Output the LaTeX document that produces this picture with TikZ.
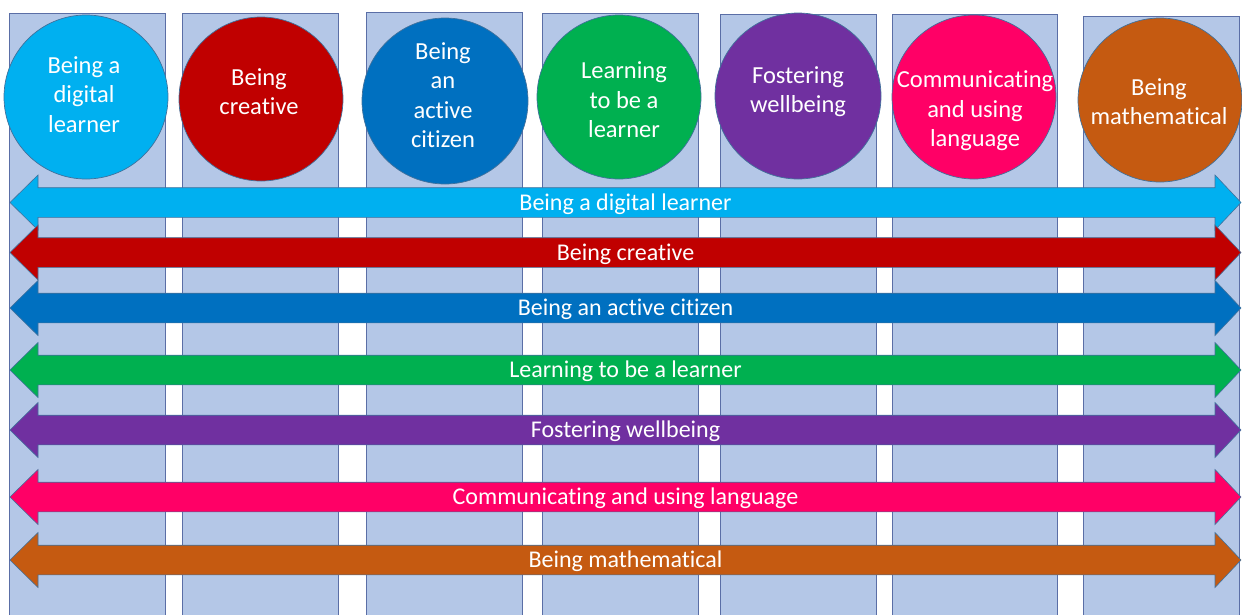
\documentclass[tikz,border=0pt]{standalone}
\usepackage{fontspec}
\setmainfont[Ligatures=NoCommon]{Carlito}
\begin{document}
\begin{tikzpicture}[x=1pt,y=-1pt,
  colbox/.style={fill=colfill,draw=colline,line width=0.8pt},
  disc/.style={circle,draw=outline,line width=0.7pt,minimum size=#1,inner sep=0pt},
  disctext/.style={text=white,align=center,inner sep=0pt,font=\fontsize{24.5}{29.5}\selectfont},
  bandtext/.style={text=white,inner sep=0pt,text height=15.5pt,text depth=0pt,font=\fontsize{24}{29}\selectfont},
  band/.style={draw=outline,line width=0.6pt}]
\definecolor{colfill}{HTML}{B4C7E7}
\definecolor{colline}{HTML}{5A6EA6}
\definecolor{outline}{HTML}{41719C}
\definecolor{cdigital}{HTML}{00B0F0}
\definecolor{ccreative}{HTML}{C00000}
\definecolor{ccitizen}{HTML}{0070C0}
\definecolor{clearner}{HTML}{00B050}
\definecolor{cwell}{HTML}{7030A0}
\definecolor{clang}{HTML}{FF0066}
\definecolor{cmaths}{HTML}{C55A11}
\useasboundingbox (0,0) rectangle (1242,614);
\clip (0,0) rectangle (1242,614);

% background columns
\draw[colbox] (9,13) rectangle (165,630);
\draw[colbox] (182,13) rectangle (338,630);
\draw[colbox] (366,12) rectangle (522,630);
\draw[colbox] (542,13) rectangle (698,630);
\draw[colbox] (720,14) rectangle (876,630);
\draw[colbox] (892,14) rectangle (1057,630);
\draw[colbox] (1083,16) rectangle (1239,630);

% the seven areas as circles
\node[disc=164pt,fill=cdigital]  (c1) at (86,97)   {};
\node[disc=164pt,fill=ccreative] (c2) at (261,99)  {};
\node[disc=166pt,fill=ccitizen]  (c3) at (445,101) {};
\node[disc=164pt,fill=clearner]  (c4) at (619,97)  {};
\node[disc=166pt,fill=cwell]     (c5) at (798,96)  {};
\node[disc=164pt,fill=clang]     (c6) at (974,97)  {};
\node[disc=164pt,fill=cmaths]    (c7) at (1160,100) {};

\node[disctext] (t1) at (84,94.5)  {Being a\\digital\\learner};
\node[disctext] (t2) at (259,91.5) {Being\\creative};
\node[disctext] (t3) at (443,95)   {Being\\an\\active\\citizen};
\node[disctext] (t4) at (624,100)  {Learning\\to be a\\learner};
\node[disctext] (t5) at (798,91.5) {Fostering\\wellbeing};
\node[disctext] (t6) at (975,111)  {Communicating\\and using\\language};
\node[disctext] (t7) at (1159,101.5) {Being\\mathematical};

% double-headed bands across all columns: #1 centre y, #2 colour, #3 name, #4 label
\newcommand\bandarrow[4]{%
  \filldraw[band,fill=#2] (10,#1) -- (38,#1-27.5) -- (38,#1-14.8) -- (1215,#1-14.8)
    -- (1215,#1-27.5) -- (1241,#1) -- (1215,#1+27.5) -- (1215,#1+14.8)
    -- (38,#1+14.8) -- (38,#1+27.5) -- cycle;
  \node[bandtext] (#3) at (625.5,#1) {#4};}

\bandarrow{202.5}{cdigital}{b1}{Being a digital learner}
\bandarrow{252.5}{ccreative}{b2}{Being creative}
\bandarrow{308}{ccitizen}{b3}{Being an active citizen}
\bandarrow{370}{clearner}{b4}{Learning to be a learner}
\bandarrow{430}{cwell}{b5}{Fostering wellbeing}
\bandarrow{497}{clang}{b6}{Communicating and using language}
\bandarrow{560}{cmaths}{b7}{Being mathematical}
\end{tikzpicture}
\end{document}
